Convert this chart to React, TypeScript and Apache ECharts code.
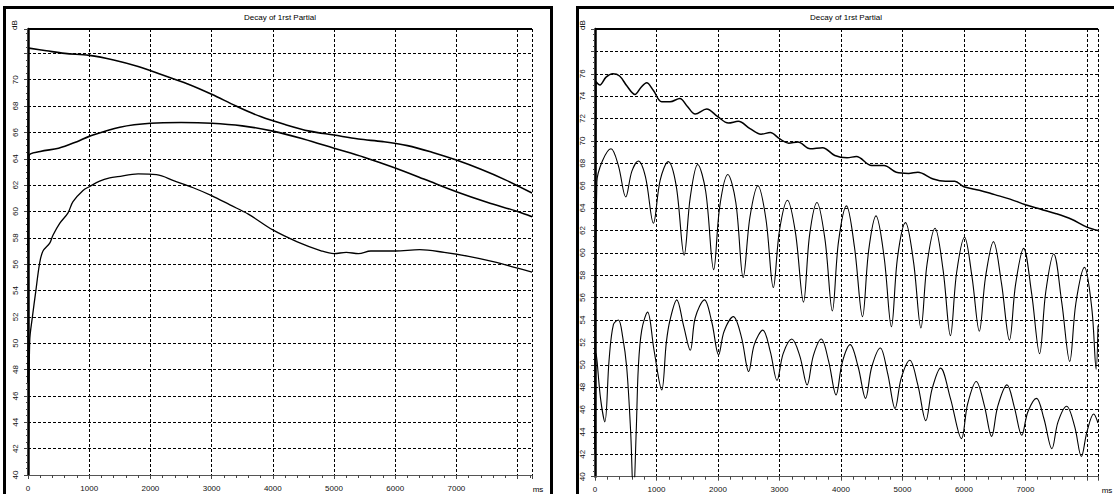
import React, { useEffect, useRef } from "react";
import * as echarts from "echarts";

const chartTitle = "Decay of 1rst Partial";
const xTicksMs = [0, 1000, 2000, 3000, 4000, 5000, 6000, 7000, 8000];

// Left panel (ms, dB)
const leftTop: [number, number][] = [
  [0, 57], [15, 72.4], [300, 72.2], [600, 72.0], [1000, 71.85], [1400, 71.5], [1800, 71.0],
  [2200, 70.35], [2600, 69.7], [3000, 68.9], [3400, 68.0], [3800, 67.2], [4200, 66.6],
  [4600, 66.1], [5000, 65.8], [5400, 65.5], [5800, 65.3], [6200, 65.0], [6600, 64.5],
  [7000, 63.9], [7400, 63.2], [7800, 62.4], [8235, 61.4],
];
const leftMiddle: [number, number][] = [
  [0, 47], [15, 64.2], [200, 64.55], [500, 64.8], [800, 65.3], [1000, 65.7], [1500, 66.4],
  [2000, 66.7], [2500, 66.75], [3000, 66.7], [3500, 66.5], [4000, 66.1], [4500, 65.5],
  [5000, 64.8], [5500, 64.1], [6000, 63.3], [6500, 62.4], [7000, 61.5], [7500, 60.7],
  [8000, 60.0], [8235, 59.6],
];
const leftBottom: [number, number][] = [
  [0, 42.3], [10, 42.5], [28, 50.2], [72, 52], [126, 53.9], [191, 56.1], [245, 57], [355, 57.6],
  [408, 58.2], [518, 59.1], [654, 59.9], [735, 60.75], [899, 61.6], [1008, 61.9], [1171, 62.3],
  [1335, 62.55], [1466, 62.65], [1800, 62.85], [2100, 62.8], [2400, 62.3], [2700, 61.8],
  [3000, 61.2], [3300, 60.5], [3600, 59.8], [4000, 58.6], [4400, 57.7], [4800, 57.0],
  [5000, 56.8], [5200, 56.9], [5400, 56.8], [5600, 57.0], [6000, 57.0], [6400, 57.1],
  [6800, 56.9], [7200, 56.6], [7600, 56.2], [8000, 55.7], [8235, 55.4],
];

// Right panel (ms, dB)
const rightTop: [number, number][] = [
  [0, 43], [15, 75.3], [80, 75.0], [180, 75.7], [290, 76.0], [400, 75.8], [520, 74.9],
  [650, 74.15], [750, 74.8], [840, 75.2], [950, 74.5], [1085, 73.5], [1220, 73.5],
  [1380, 73.8], [1500, 73.1], [1630, 72.4], [1816, 72.85], [1990, 72.2], [2170, 71.6],
  [2330, 71.75], [2520, 71.1], [2700, 70.6], [2850, 70.75], [3000, 70.2], [3150, 69.8],
  [3300, 69.9], [3500, 69.3], [3700, 69.4], [3900, 68.7], [4100, 68.5], [4250, 68.6],
  [4500, 67.8], [4700, 67.8], [4900, 67.2], [5100, 67.1], [5250, 67.2], [5500, 66.6],
  [5700, 66.4], [5850, 66.4], [6000, 65.9], [6250, 65.6], [6500, 65.2], [6750, 64.8],
  [7000, 64.3], [7250, 63.9], [7500, 63.5], [7750, 63.0], [8000, 62.3], [8180, 62.0],
];
const rightMiddle: [number, number][] = [
  [0, 42], [30, 66.3], [120, 68.2], [260, 69.3], [380, 67.8], [500, 65.0], [600, 67.3],
  [705, 68.2], [820, 66.8], [950, 62.65], [1060, 66.5], [1190, 68.15], [1320, 66.0],
  [1450, 59.8], [1550, 65.0], [1670, 67.9], [1800, 65.5], [1930, 58.5], [2030, 64.2],
  [2160, 67.0], [2290, 64.5], [2410, 57.8], [2520, 63.2], [2650, 66.0], [2780, 63.0],
  [2900, 56.9], [3000, 62.0], [3130, 64.7], [3260, 61.8], [3390, 55.6], [3490, 61.6],
  [3610, 64.5], [3740, 61.2], [3860, 54.8], [3960, 61.0], [4090, 64.2], [4220, 60.5],
  [4350, 54.3], [4450, 60.2], [4570, 63.3], [4700, 59.7], [4820, 53.4], [4920, 59.6],
  [5050, 62.7], [5180, 59.2], [5300, 53.3], [5400, 59.0], [5530, 62.2], [5660, 58.5],
  [5780, 52.6], [5880, 58.2], [6010, 61.4], [6130, 57.9], [6250, 53.0], [6350, 57.8],
  [6480, 61.0], [6610, 57.3], [6740, 52.2], [6840, 57.2], [6970, 60.4], [7100, 56.4],
  [7230, 51.0], [7330, 56.5], [7460, 59.9], [7590, 55.6], [7720, 50.3], [7820, 55.5],
  [7960, 58.7], [8080, 55.0], [8150, 49.6], [8180, 53.5],
];
const rightBottom: [number, number][] = [
  [0, 42.5], [20, 51], [90, 47], [160, 44.9], [230, 50.5], [300, 53.6], [380, 54.0],
  [450, 52.5], [515, 49.8], [580, 44], [625, 38], [670, 44], [705, 49.8], [760, 53.1],
  [855, 54.7], [960, 51.3], [1085, 47.75], [1160, 52], [1220, 54.0], [1330, 55.8],
  [1440, 53.5], [1550, 51.3], [1630, 54.2], [1780, 55.8], [1900, 53.8], [2010, 50.9],
  [2100, 53], [2250, 54.3], [2380, 52.5], [2500, 49.4], [2590, 51.8], [2730, 53.1],
  [2850, 51.2], [2960, 48.6], [3060, 51], [3200, 52.3], [3330, 50.8], [3450, 48.2],
  [3550, 50.8], [3680, 52.3], [3800, 50.3], [3920, 47.3], [4020, 50.2], [4150, 51.8],
  [4280, 49.8], [4400, 47.0], [4500, 49.8], [4640, 51.5], [4760, 49.2], [4880, 46.1],
  [4980, 48.8], [5120, 50.4], [5250, 48.2], [5380, 45.0], [5480, 47.8], [5620, 49.7],
  [5780, 47.0], [5960, 43.4], [6060, 46.5], [6200, 48.5], [6330, 46.4], [6450, 43.6],
  [6550, 46.3], [6700, 48.2], [6820, 46.2], [6940, 43.7], [7040, 45.8], [7180, 47.0],
  [7300, 45.2], [7430, 42.5], [7530, 44.9], [7670, 46.3], [7800, 44.5], [7910, 41.8],
  [8000, 44], [8110, 45.6], [8180, 44.8],
];

const FONT = "'Liberation Sans', Arial, sans-serif";
const TXT = "#111";

function xAxisCfg(gridIndex: number, max: number) {
  return {
    type: "value" as const,
    gridIndex,
    min: 0,
    max,
    interval: 1000,
    axisLine: { show: true, onZero: false, lineStyle: { color: "#555", width: 1 } },
    axisTick: { show: true, inside: false, length: 4, lineStyle: { color: "#444" } },
    minorTick: { show: true, splitNumber: 5, length: 3, lineStyle: { color: "#444" } },
    axisLabel: {
      show: true,
      fontSize: 8,
      fontFamily: FONT,
      color: TXT,
      margin: 9,
      showMaxLabel: false,
      formatter: (v: number) => (xTicksMs.indexOf(v) >= 0 && v < 8000 ? String(v) : ""),
    },
    splitLine: { show: true, lineStyle: { color: "#000", type: [3, 2] as any, width: 1 } },
  };
}

function yAxisCfg(gridIndex: number, max: number, hideFrom: number) {
  return {
    type: "value" as const,
    gridIndex,
    min: 40,
    max,
    interval: 2,
    axisLine: { show: true, onZero: false, lineStyle: { color: "#000", width: 2.5 } },
    axisTick: { show: true, inside: false, length: 4, lineStyle: { color: "#444" } },
    minorTick: { show: true, splitNumber: 4, length: 2, lineStyle: { color: "#444" } },
    axisLabel: {
      show: true,
      fontSize: 8,
      fontFamily: FONT,
      color: TXT,
      rotate: 90,
      margin: 9,
      showMaxLabel: false,
      formatter: (v: number) => (v < hideFrom ? String(v) : ""),
    },
    splitLine: { show: true, lineStyle: { color: "#000", type: [3, 2] as any, width: 1 } },
  };
}

function lineSeries(data: [number, number][], idx: number, width: number) {
  return {
    type: "line" as const,
    xAxisIndex: idx,
    yAxisIndex: idx,
    data,
    showSymbol: false,
    symbol: "none",
    smooth: 0.35,
    clip: true,
    lineStyle: { color: "#000", width },
    z: 5,
  };
}

export default function App() {
  const ref = useRef<HTMLDivElement>(null);
  useEffect(() => {
    if (!ref.current) return;
    const chart = echarts.init(ref.current, null, { renderer: "svg" });
    const textStyle = { fontSize: 8, fontFamily: FONT, fill: "#000" };
    chart.setOption({
      animation: false,
      backgroundColor: "#fff",
      grid: [
        { left: 28, top: 29, width: 504, height: 446 },
        { left: 595, top: 29, width: 503, height: 447.7 },
      ],
      xAxis: [xAxisCfg(0, 8235), xAxisCfg(1, 8180)],
      yAxis: [yAxisCfg(0, 73.85, 72), yAxisCfg(1, 80, 78)],
      series: [
        lineSeries(leftTop, 0, 1.6),
        lineSeries(leftMiddle, 0, 1.6),
        lineSeries(leftBottom, 0, 1.3),
        lineSeries(rightTop, 1, 1.5),
        lineSeries(rightMiddle, 1, 1.1),
        lineSeries(rightBottom, 1, 1.1),
      ],
      graphic: [
        { type: "rect", shape: { x: 4.5, y: 7.5, width: 547, height: 500 }, style: { fill: "none", stroke: "#000", lineWidth: 3 }, z: 10 },
        { type: "rect", shape: { x: 577.5, y: 7.5, width: 560, height: 500 }, style: { fill: "none", stroke: "#000", lineWidth: 3 }, z: 10 },
        { type: "line", shape: { x1: 28, y1: 29, x2: 532, y2: 29 }, style: { stroke: "#000", lineWidth: 2 }, z: 10 },
        { type: "line", shape: { x1: 595, y1: 29, x2: 1098, y2: 29 }, style: { stroke: "#000", lineWidth: 2 }, z: 10 },
        { type: "text", x: 280, y: 17, style: { ...textStyle, text: chartTitle, textAlign: "center", textVerticalAlign: "middle" }, z: 10 },
        { type: "text", x: 846, y: 17, style: { ...textStyle, text: chartTitle, textAlign: "center", textVerticalAlign: "middle" }, z: 10 },
        { type: "text", x: 14, y: 25, rotation: Math.PI / 2, style: { ...textStyle, text: "dB", textAlign: "center", textVerticalAlign: "middle" }, z: 10 },
        { type: "text", x: 582, y: 25, rotation: Math.PI / 2, style: { ...textStyle, text: "dB", textAlign: "center", textVerticalAlign: "middle" }, z: 10 },
        { type: "text", x: 538, y: 489, style: { ...textStyle, text: "ms", textAlign: "center", textVerticalAlign: "middle" }, z: 10 },
        { type: "text", x: 1107, y: 490, style: { ...textStyle, text: "ms", textAlign: "center", textVerticalAlign: "middle" }, z: 10 },
      ],
    });
    return () => chart.dispose();
  }, []);
  return (
    <div
      ref={ref}
      style={{ position: "absolute", left: 0, top: 0, width: 1114, height: 494, background: "#fff" }}
    />
  );
}
